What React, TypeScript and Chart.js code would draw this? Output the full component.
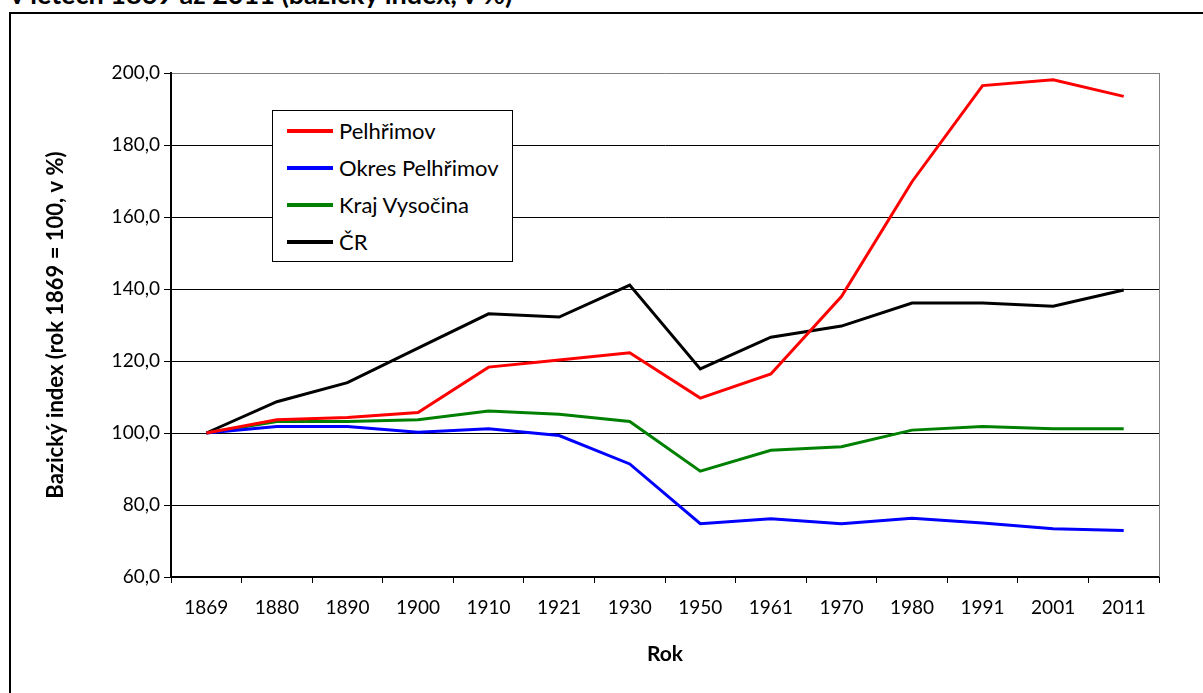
import React, { useEffect, useRef } from 'react';
import { Chart, registerables } from 'chart.js';

Chart.register(...registerables);

const years = ['1869', '1880', '1890', '1900', '1910', '1921', '1930', '1950', '1961', '1970', '1980', '1991', '2001', '2011'];
const pelhrimov = [100, 103.7, 104.3, 105.7, 118.3, 120.3, 122.3, 109.7, 116.4, 137.9, 169.8, 196.5, 198.1, 193.5];
const okresPelhrimov = [100, 101.8, 101.8, 100.2, 101.2, 99.3, 91.4, 74.8, 76.2, 74.8, 76.3, 75.0, 73.4, 72.9];
const krajVysocina = [100, 103.2, 103.2, 103.7, 106.1, 105.2, 103.2, 89.4, 95.2, 96.2, 100.8, 101.8, 101.2, 101.2];
const cr = [100, 108.7, 114.0, 123.6, 133.1, 132.2, 141.1, 117.8, 126.6, 129.7, 136.1, 136.1, 135.2, 139.7];

const seriesNames = ['Pelhřimov', 'Okres Pelhřimov', 'Kraj Vysočina', 'ČR'];
const seriesColors = ['#FF0000', '#0000FF', '#008000', '#000000'];
const seriesValues = [pelhrimov, okresPelhrimov, krajVysocina, cr];

const yMin = 60;
const yMax = 200;
const yStep = 20;

const chartTitle = 'v letech 1869 až 2011 (bazický index, v %)';
const yTitle = 'Bazický index (rok 1869 = 100, v %)';
const xTitle = 'Rok';

const FONT = 'Lato, "Open Sans", sans-serif';

const plotBorderPlugin = {
  id: 'plotBorder',
  beforeDatasetsDraw(chart: any) {
    const { ctx, chartArea } = chart;
    ctx.save();
    ctx.strokeStyle = '#808080';
    ctx.lineWidth = 1;
    ctx.beginPath();
    ctx.moveTo(chartArea.right + 0.5, chartArea.top);
    ctx.lineTo(chartArea.right + 0.5, chartArea.bottom);
    ctx.stroke();
    ctx.restore();
  },
};

export default function App() {
  const canvasRef = useRef<HTMLCanvasElement | null>(null);

  useEffect(() => {
    if (!canvasRef.current) return;
    const chart = new Chart(canvasRef.current, {
      type: 'line',
      data: {
        labels: years,
        datasets: seriesValues.map((vals, i) => ({
          label: seriesNames[i],
          data: vals,
          borderColor: seriesColors[i],
          backgroundColor: seriesColors[i],
          borderWidth: 3,
          pointRadius: 0,
          pointHoverRadius: 0,
          tension: 0,
          fill: false,
        })),
      },
      options: {
        animation: false,
        responsive: false,
        maintainAspectRatio: false,
        events: [],
        layout: {
          padding: { left: 43, top: 73, right: 44, bottom: 21 },
        },
        plugins: {
          legend: { display: false },
          title: { display: false },
          tooltip: { enabled: false },
        },
        scales: {
          x: {
            type: 'category',
            offset: true,
            afterFit: (scale: any) => {
              scale.height = 95;
            },
            grid: {
              offset: true,
              drawOnChartArea: false,
              drawTicks: true,
              tickLength: 6,
              color: '#000000',
              tickColor: '#000000',
            },
            border: { display: true, color: '#000000', width: 2 },
            ticks: {
              color: '#000000',
              font: { family: FONT, size: 19 },
              padding: 13,
              maxRotation: 0,
              autoSkip: false,
            },
            title: {
              display: true,
              text: xTitle,
              color: '#000000',
              font: { family: FONT, size: 21, weight: 'bold' },
              padding: { top: 0, bottom: 5 },
            },
          },
          y: {
            min: yMin,
            max: yMax,
            afterFit: (scale: any) => {
              scale.width = 128;
            },
            grid: {
              drawTicks: true,
              tickLength: 7,
              lineWidth: 1,
              color: (ctx: any) => (ctx.tick && ctx.tick.value === yMax ? '#808080' : '#000000'),
              tickColor: '#000000',
            },
            border: { display: true, color: '#000000', width: 2 },
            ticks: {
              stepSize: yStep,
              color: '#000000',
              font: { family: FONT, size: 19 },
              padding: 4,
              callback: (v: any) => Number(v).toFixed(1).replace('.', ','),
            },
            title: {
              display: true,
              text: yTitle,
              color: '#000000',
              font: { family: FONT, size: 22, weight: 'bold' },
              padding: { top: 0, bottom: 0 },
            },
          },
        },
      },
      plugins: [plotBorderPlugin],
    } as any);
    return () => chart.destroy();
  }, []);

  const legendRowTops = [20, 57, 94, 131];

  return (
    <div style={{ position: 'fixed', left: 0, top: 0, width: 1203, height: 693, overflow: 'hidden', background: '#ffffff' }}>
      <div
        style={{
          position: 'absolute',
          left: 9,
          top: 12,
          width: 1300,
          height: 800,
          border: '2px solid #000000',
          boxSizing: 'border-box',
        }}
      />
      <div
        style={{
          position: 'absolute',
          left: 10,
          top: -20,
          fontFamily: FONT,
          fontWeight: 'bold',
          fontSize: 27,
          lineHeight: '27px',
          whiteSpace: 'nowrap',
          color: '#000000',
        }}
      >
        {chartTitle}
      </div>
      <canvas
        ref={canvasRef}
        width={1203}
        height={693}
        style={{ position: 'absolute', left: 0, top: 0, width: 1203, height: 693 }}
      />
      <div
        style={{
          position: 'absolute',
          left: 272,
          top: 110,
          width: 241,
          height: 152,
          border: '1px solid #000000',
          boxSizing: 'border-box',
          background: '#ffffff',
        }}
      >
        {seriesNames.map((name, i) => (
          <div key={name}>
            <div
              style={{
                position: 'absolute',
                left: 14,
                top: legendRowTops[i] - 2,
                width: 46,
                height: 4,
                background: seriesColors[i],
              }}
            />
            <div
              style={{
                position: 'absolute',
                left: 66,
                top: legendRowTops[i] - 13,
                height: 26,
                lineHeight: '26px',
                fontFamily: FONT,
                fontSize: 22,
                color: '#000000',
                whiteSpace: 'nowrap',
              }}
            >
              {name}
            </div>
          </div>
        ))}
      </div>
    </div>
  );
}
